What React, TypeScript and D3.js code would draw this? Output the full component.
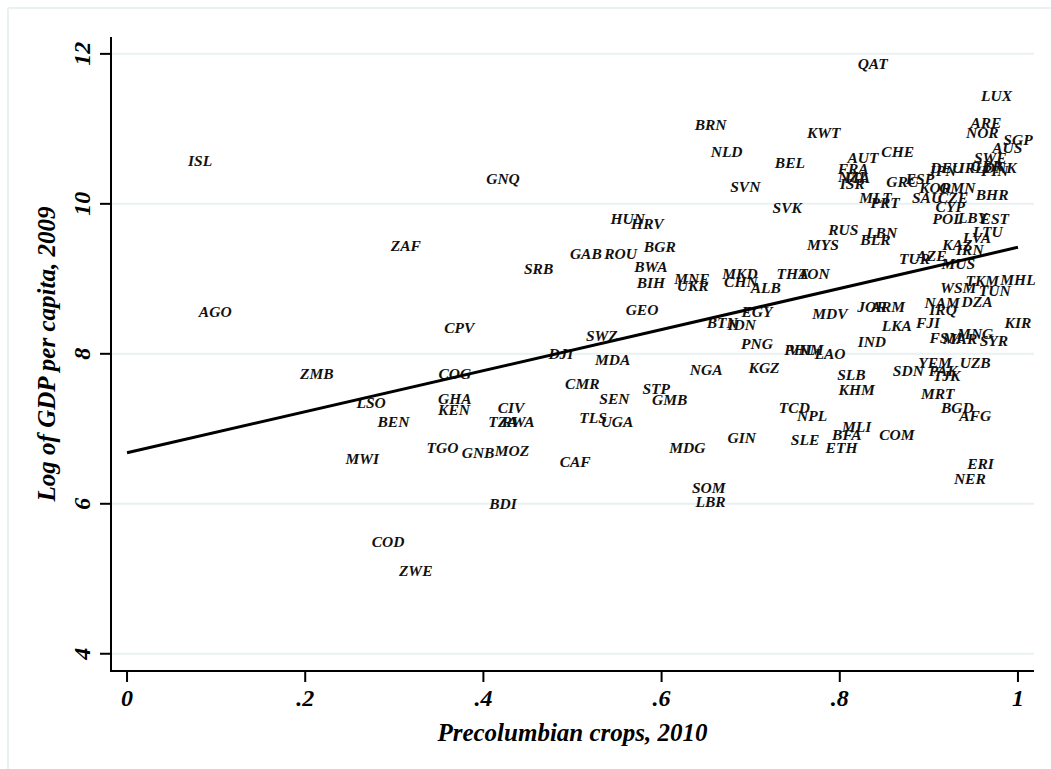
import React from 'react';
import * as d3 from 'd3';

// country codes with their precolumbian crop share and log GDP per capita
const codes = [
  'ISL', 'GNQ', 'ZAF', 'SRB', 'AGO', 'CPV', 'ZMB', 'COG', 'LSO', 'GHA', 'KEN', 'CIV', 'TZA', 'RWA', 'BEN',
  'TGO', 'GNB', 'MOZ', 'MWI', 'BDI', 'COD', 'ZWE', 'DJI', 'BRN', 'NLD', 'BEL', 'SVN', 'SVK', 'KWT', 'HUN',
  'HRV', 'GAB', 'ROU', 'BGR', 'BWA', 'BIH', 'MNE', 'UKR', 'MKD', 'CHN', 'ALB', 'THA', 'TON', 'MYS', 'GEO',
  'EGY', 'BTN', 'IDN', 'SWZ', 'PNG', 'PHL', 'VNM', 'LAO', 'MDA', 'NGA', 'KGZ', 'CMR', 'SEN', 'STP', 'GMB',
  'TLS', 'UGA', 'TCD', 'NPL', 'GIN', 'SLE', 'MDG', 'CAF', 'SOM', 'LBR', 'MDV', 'RUS', 'LBN', 'BLR', 'POL',
  'CYP', 'LBY', 'EST', 'LTU', 'LVA', 'KAZ', 'IRN', 'TUR', 'AZE', 'MUS', 'TKM', 'MHL', 'WSM', 'TUN', 'NAM',
  'DZA', 'IRQ', 'JOR', 'ARM', 'LKA', 'FJI', 'KIR', 'IND', 'FSM', 'MNG', 'MAR', 'SYR', 'YEM', 'UZB', 'SDN',
  'PAK', 'TJK', 'SLB', 'KHM', 'MRT', 'BGD', 'AFG', 'MLI', 'BFA', 'COM', 'ETH', 'ERI', 'NER', 'QAT', 'LUX',
  'ARE', 'NOR', 'SGP', 'AUS', 'CHE', 'AUT', 'FRA', 'ITA', 'NZL', 'ISR', 'GRC', 'ESP', 'DEU', 'JPN', 'IRL',
  'SWE', 'GBR', 'DNK', 'FIN', 'KOR', 'OMN', 'SAU', 'CZE', 'BHR', 'MLT', 'PRT',
];

const cropShare = [
  0.082, 0.422, 0.313, 0.462, 0.099, 0.373, 0.213, 0.368, 0.274, 0.368, 0.367, 0.431, 0.422, 0.439, 0.299,
  0.354, 0.394, 0.432, 0.264, 0.422, 0.293, 0.324, 0.487, 0.655, 0.673, 0.744, 0.694, 0.741, 0.782, 0.562,
  0.584, 0.515, 0.554, 0.598, 0.588, 0.588, 0.634, 0.635, 0.688, 0.689, 0.717, 0.747, 0.771, 0.781, 0.578,
  0.707, 0.668, 0.690, 0.533, 0.707, 0.755, 0.762, 0.789, 0.545, 0.650, 0.715, 0.511, 0.547, 0.594, 0.609,
  0.523, 0.550, 0.749, 0.769, 0.690, 0.761, 0.629, 0.503, 0.653, 0.655, 0.789, 0.804, 0.847, 0.840, 0.921,
  0.924, 0.949, 0.974, 0.966, 0.954, 0.932, 0.946, 0.884, 0.903, 0.933, 0.960, 1.0, 0.933, 0.974, 0.915,
  0.954, 0.916, 0.836, 0.854, 0.864, 0.899, 1.0, 0.836, 0.919, 0.952, 0.935, 0.973, 0.907, 0.952, 0.877,
  0.916, 0.920, 0.813, 0.819, 0.910, 0.932, 0.952, 0.819, 0.808, 0.864, 0.802, 0.958, 0.946, 0.837, 0.976,
  0.964, 0.960, 1.0, 0.988, 0.865, 0.826, 0.815, 0.820, 0.815, 0.814, 0.870, 0.890, 0.920, 0.915, 0.948,
  0.969, 0.965, 0.980, 0.974, 0.907, 0.932, 0.898, 0.927, 0.971, 0.840, 0.851,
];

const logGdp = [
  10.58, 10.34, 9.44, 9.14, 8.56, 8.35, 7.74, 7.74, 7.35, 7.40, 7.26, 7.28, 7.10, 7.10, 7.10,
  6.75, 6.68, 6.71, 6.60, 6.00, 5.50, 5.11, 8.00, 11.06, 10.70, 10.55, 10.23, 9.95, 10.95, 9.80,
  9.74, 9.34, 9.34, 9.43, 9.16, 8.95, 9.00, 8.91, 9.07, 8.96, 8.88, 9.07, 9.07, 9.46, 8.59,
  8.56, 8.42, 8.39, 8.24, 8.14, 8.06, 8.06, 8.00, 7.92, 7.79, 7.82, 7.60, 7.40, 7.54, 7.39,
  7.15, 7.10, 7.28, 7.18, 6.88, 6.86, 6.75, 6.56, 6.22, 6.03, 8.54, 9.66, 9.62, 9.52, 9.80,
  9.96, 9.82, 9.80, 9.63, 9.55, 9.46, 9.39, 9.27, 9.31, 9.20, 8.98, 8.99, 8.88, 8.84, 8.68,
  8.70, 8.59, 8.63, 8.63, 8.38, 8.42, 8.42, 8.16, 8.22, 8.27, 8.20, 8.18, 7.88, 7.88, 7.78,
  7.78, 7.71, 7.72, 7.52, 7.47, 7.28, 7.18, 7.03, 6.92, 6.92, 6.75, 6.54, 6.34, 11.87, 11.44,
  11.08, 10.95, 10.86, 10.75, 10.70, 10.62, 10.47, 10.35, 10.36, 10.27, 10.30, 10.34, 10.48, 10.44, 10.48,
  10.62, 10.51, 10.48, 10.44, 10.22, 10.22, 10.08, 10.08, 10.12, 10.08, 10.02,
];

// linear fit endpoints
const fitX = [0, 1];
const fitY = [6.68, 9.42];

const xTicks = [0, 0.2, 0.4, 0.6, 0.8, 1];
const xTickLabels = ['0', '.2', '.4', '.6', '.8', '1'];
const yTicks = [4, 6, 8, 10, 12];

const FONT = '"Liberation Serif", "Times New Roman", serif';

export default function App() {
  const left = 111;
  const right = 1034;
  const top = 37;
  const bottom = 671;

  const x = d3.scaleLinear().domain([-0.018, 1.018]).range([left, right]);
  const y = d3.scaleLinear().domain([3.77, 12.225]).range([bottom, top]);

  const line = d3.line<number>()
    .x((d) => x(d))
    .y((d, i) => y(fitY[i]));

  const grid = '#e9f1f2';

  return (
    <svg width={1051} height={769} style={{ position: 'absolute', left: 0, top: 0, background: '#fff' }}
      fontFamily={FONT} fontWeight="bold" fontStyle="italic">
      <line x1={8} y1={8} x2={1051} y2={8} stroke={grid} strokeWidth={2} />
      <line x1={8} y1={8} x2={8} y2={769} stroke={grid} strokeWidth={2} />

      {yTicks.map((t) => (
        <line key={'g' + t} x1={left} x2={right} y1={y(t)} y2={y(t)} stroke={grid} strokeWidth={2} />
      ))}

      {codes.map((c, i) => (
        <text key={c} x={x(cropShare[i])} y={y(logGdp[i])} dy="0.35em" textAnchor="middle"
          fontSize={15.5} fill="#111">
          {c}
        </text>
      ))}

      <path d={line(fitX) || ''} fill="none" stroke="#000" strokeWidth={3} />

      <line x1={left} x2={left} y1={top} y2={bottom + 1} stroke="#000" strokeWidth={2} />
      <line x1={left - 1} x2={right} y1={bottom} y2={bottom} stroke="#000" strokeWidth={2} />

      {yTicks.map((t) => (
        <g key={'y' + t}>
          <line x1={left - 11} x2={left} y1={y(t)} y2={y(t)} stroke="#000" strokeWidth={2} />
          <text transform={`translate(90,${y(t)}) rotate(-90)`} textAnchor="middle" fontSize={24} fill="#000">
            {t}
          </text>
        </g>
      ))}

      {xTicks.map((t, i) => (
        <g key={'x' + t}>
          <line x1={x(t)} x2={x(t)} y1={bottom} y2={bottom + 11} stroke="#000" strokeWidth={2} />
          <text x={x(t)} y={706} textAnchor="middle" fontSize={24} fill="#000">
            {xTickLabels[i]}
          </text>
        </g>
      ))}

      <text x={(left + right) / 2} y={741} textAnchor="middle" fontSize={25} fill="#000">
        Precolumbian crops, 2010
      </text>
      <text transform={`translate(55,${(top + bottom) / 2}) rotate(-90)`} textAnchor="middle" fontSize={25} fill="#000">
        Log of GDP per capita, 2009
      </text>
    </svg>
  );
}
